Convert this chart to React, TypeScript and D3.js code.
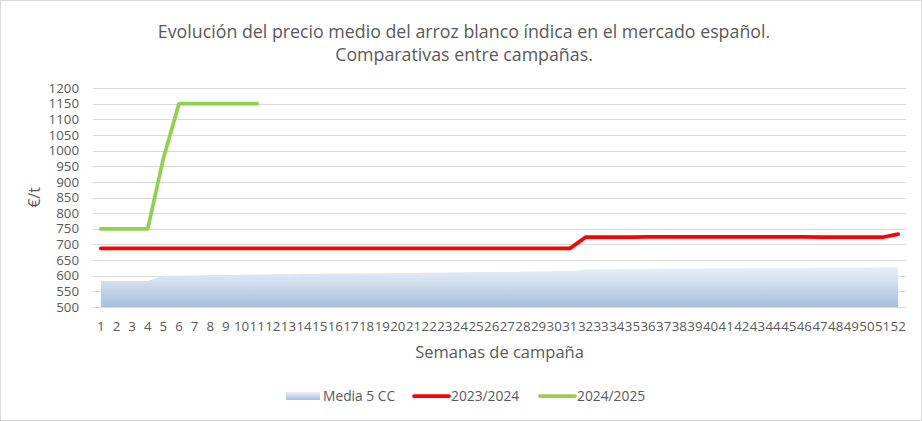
import { useEffect, useRef } from "react";
import * as d3 from "d3";

const weeks = d3.range(1, 53);
const yTicks = [500, 550, 600, 650, 700, 750, 800, 850, 900, 950, 1000, 1050, 1100, 1150, 1200];

// Media 5 CC (area)
const media5 = [
  583, 583, 583, 583, 600, 601, 601, 602, 602, 603,
  604, 605, 605, 606, 606, 607, 607, 608, 608, 609,
  609, 610, 610, 611, 612, 612, 613, 613, 614, 614,
  615, 620, 621, 621, 622, 622, 623, 623, 623, 624,
  624, 624, 625, 625, 625, 625, 626, 626, 626, 626,
  627, 627,
];

// 2023/2024
const camp2324 = [
  687, 687, 687, 687, 687, 687, 687, 687, 687, 687,
  687, 687, 687, 687, 687, 687, 687, 687, 687, 687,
  687, 687, 687, 687, 687, 687, 687, 687, 687, 687,
  687, 723, 723, 723, 723, 724, 724, 724, 724, 724,
  724, 724, 724, 724, 724, 724, 723, 723, 723, 723,
  723, 733,
];

// 2024/2025 (solo 11 semanas)
const camp2425 = [750, 750, 750, 750, 975, 1150, 1150, 1150, 1150, 1150, 1150];

const textColor = "#595959";
const font = "'Open Sans', sans-serif";

export default function App() {
  const svgRef = useRef<SVGSVGElement>(null);
  const width = 922;
  const height = 421;

  useEffect(() => {
    document.body.style.margin = "0";
    if (!svgRef.current) return;
    const svg = d3.select(svgRef.current);
    svg.selectAll("*").remove();

    const margin = { top: 88, right: 16, bottom: 114, left: 93 };
    const w = width - margin.left - margin.right;
    const h = height - margin.top - margin.bottom;

    // chart frame
    svg
      .append("rect")
      .attr("x", 0.5)
      .attr("y", 0.5)
      .attr("width", width - 1)
      .attr("height", height - 1)
      .attr("fill", "#fff")
      .attr("stroke", "#d9d9d9");

    const defs = svg.append("defs");
    const grad = defs
      .append("linearGradient")
      .attr("id", "areaGrad")
      .attr("x1", 0)
      .attr("y1", 0)
      .attr("x2", 0)
      .attr("y2", 1);
    grad.append("stop").attr("offset", "0%").attr("stop-color", "#e9eff7");
    grad.append("stop").attr("offset", "100%").attr("stop-color", "#a9bfdf");

    const g = svg
      .append("g")
      .attr("transform", `translate(${margin.left},${margin.top})`);

    const x = d3
      .scaleBand<number>()
      .domain(weeks)
      .range([0, w]);
    const xc = (d: number) => (x(d) ?? 0) + x.bandwidth() / 2;
    const y = d3.scaleLinear().domain([500, 1200]).range([h, 0]);

    // Grid lines
    yTicks.forEach((t) => {
      g.append("line")
        .attr("x1", 0)
        .attr("x2", w)
        .attr("y1", Math.round(y(t)) + 0.5)
        .attr("y2", Math.round(y(t)) + 0.5)
        .attr("stroke", "#d9d9d9")
        .attr("stroke-width", 1);
    });

    // Area
    const area = d3
      .area<number>()
      .x((_, i) => xc(weeks[i]))
      .y0(y(500))
      .y1((d) => y(d));
    g.append("path")
      .datum(media5)
      .attr("fill", "url(#areaGrad)")
      .attr("d", area);

    const line = d3
      .line<number>()
      .x((_, i) => xc(weeks[i]))
      .y((d) => y(d));

    g.append("path")
      .datum(camp2324)
      .attr("fill", "none")
      .attr("stroke", "#ff0000")
      .attr("stroke-width", 3.75)
      .attr("stroke-linejoin", "round")
      .attr("stroke-linecap", "round")
      .attr("d", line);

    g.append("path")
      .datum(camp2425)
      .attr("fill", "none")
      .attr("stroke", "#92d050")
      .attr("stroke-width", 3.75)
      .attr("stroke-linejoin", "round")
      .attr("stroke-linecap", "round")
      .attr("d", line);

    // Y tick labels
    yTicks.forEach((t) => {
      g.append("text")
        .attr("x", -14)
        .attr("y", y(t))
        .attr("dy", "0.35em")
        .attr("text-anchor", "end")
        .attr("font-family", font)
        .attr("font-size", "13.3px")
        .attr("fill", textColor)
        .text(t);
    });

    // X tick labels
    weeks.forEach((wk) => {
      g.append("text")
        .attr("x", xc(wk))
        .attr("y", h + 24)
        .attr("text-anchor", "middle")
        .attr("font-family", font)
        .attr("font-size", "13.3px")
        .attr("fill", textColor)
        .text(wk);
    });

    // Axis titles
    g.append("text")
      .attr("x", w / 2)
      .attr("y", h + 51)
      .attr("text-anchor", "middle")
      .attr("font-family", font)
      .attr("font-size", "16.5px")
      .attr("fill", textColor)
      .text("Semanas de campaña");

    svg
      .append("text")
      .attr("transform", `translate(40,${margin.top + h / 2}) rotate(-90)`)
      .attr("text-anchor", "middle")
      .attr("font-family", font)
      .attr("font-size", "16px")
      .attr("fill", textColor)
      .text("€/t");

    // Title
    const title = svg
      .append("text")
      .attr("text-anchor", "middle")
      .attr("font-family", font)
      .attr("font-size", "17.8px")
      .attr("fill", textColor);
    title
      .append("tspan")
      .attr("x", 464)
      .attr("y", 38)
      .text("Evolución del precio medio del arroz blanco índica en el mercado español.");
    title
      .append("tspan")
      .attr("x", 464)
      .attr("y", 61)
      .text("Comparativas entre campañas.");

    // Legend
    const ly = 396;
    const legend = svg.append("g");
    legend
      .append("rect")
      .attr("x", 286)
      .attr("y", ly - 4)
      .attr("width", 34)
      .attr("height", 8)
      .attr("fill", "url(#areaGrad)");
    legend
      .append("text")
      .attr("x", 323)
      .attr("y", ly)
      .attr("dy", "0.35em")
      .attr("font-family", font)
      .attr("font-size", "13.8px")
      .attr("fill", textColor)
      .text("Media 5 CC");
    const items = [
      { x: 414, color: "#ff0000", label: "2023/2024" },
      { x: 540, color: "#92d050", label: "2024/2025" },
    ];
    items.forEach((it) => {
      legend
        .append("line")
        .attr("x1", it.x)
        .attr("x2", it.x + 35)
        .attr("y1", ly)
        .attr("y2", ly)
        .attr("stroke", it.color)
        .attr("stroke-width", 3.75)
        .attr("stroke-linecap", "round");
      legend
        .append("text")
        .attr("x", it.x + 37)
        .attr("y", ly)
        .attr("dy", "0.35em")
        .attr("font-family", font)
        .attr("font-size", "13.8px")
        .attr("fill", textColor)
        .text(it.label);
    });
  }, []);

  return (
    <svg
      ref={svgRef}
      width={width}
      height={height}
      style={{ display: "block" }}
    />
  );
}
